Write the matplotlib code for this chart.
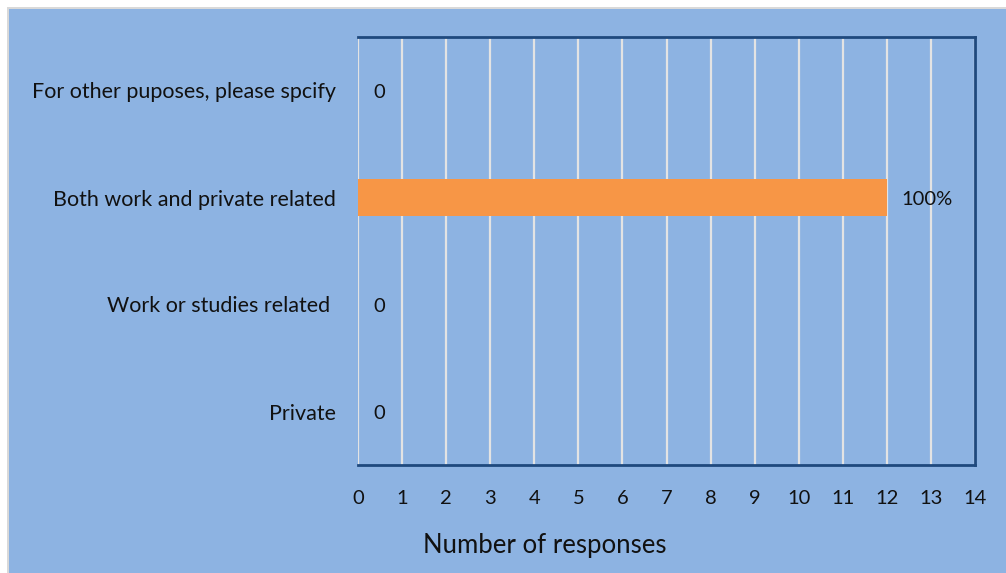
import matplotlib
matplotlib.use("Agg")
import matplotlib.pyplot as plt
from matplotlib.patches import Rectangle

categories = ["Private", "Work or studies related ", "Both work and private related",
              "For other puposes, please spcify"]
values = [0, 0, 12, 0]
labels = ["0", "0", "100%", "0"]
xticks = list(range(0, 15))

BG = "#8DB3E2"
BAR = "#F79646"
NAVY = "#1F497D"
FONT = ["Lato", "DejaVu Sans"]
TXT = "#111111"

plt.rcParams["font.family"] = FONT

fig = plt.figure(figsize=(10.06, 5.73), dpi=100)
fig.patch.set_facecolor("white")
# outer grey border and blue chart area
fig.patches.append(Rectangle((7/1006, 0), 1 - 7/1006, 1 - 7/573, transform=fig.transFigure,
                             facecolor="#D9D9D9", edgecolor="none", zorder=-2))
fig.patches.append(Rectangle((9/1006, 0), 1 - 9/1006, 1 - 9/573, transform=fig.transFigure,
                             facecolor=BG, edgecolor="none", zorder=-1))

ax = fig.add_axes([358/1006, 1 - 465/573, (975 - 358)/1006, (465 - 37)/573])
ax.set_zorder(2)
ax.set_facecolor(BG)
ypos = list(range(len(categories)))
ax.barh(ypos, values, height=0.35, color=BAR, zorder=3)
ax.set_xlim(0, 14)
ax.set_ylim(-0.5, 3.5)
ax.set_xticks(xticks)
ax.set_xticklabels([str(t) for t in xticks])
ax.set_yticks(ypos)
ax.set_yticklabels(categories)
ax.tick_params(axis="x", length=0, labelsize=14.5, colors=TXT, pad=18)
ax.tick_params(axis="y", length=0, labelsize=15.5, colors=TXT, pad=16)
ax.grid(axis="x", color="#E3E3E3", linewidth=1.6, zorder=1)
ax.set_axisbelow(True)
for s in ["top", "right", "bottom"]:
    ax.spines[s].set_color(NAVY)
    ax.spines[s].set_linewidth(2)
ax.spines["left"].set_visible(False)

for y, v, lab in zip(ypos, values, labels):
    ax.annotate(lab, (v, y), xytext=(15, -2), textcoords="offset pixels",
                ha="left", va="center", fontsize=14.5, color=TXT)

fig.text(545/1006, 1 - 545/573, "Number of responses", ha="center", va="center",
         fontsize=18.5, color=TXT, zorder=3)

fig.savefig("out.png", dpi=100, facecolor=fig.get_facecolor())
